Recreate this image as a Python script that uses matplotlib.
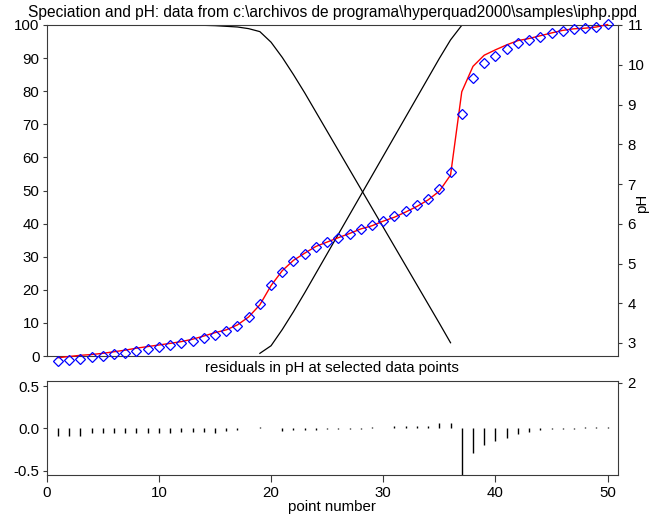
import matplotlib
matplotlib.use("Agg")
import matplotlib.pyplot as plt

plt.rcParams['font.family'] = ['Liberation Sans', 'DejaVu Sans']

# ---- data -------------------------------------------------------------
points = list(range(1, 51))

ph_observed = [2.54, 2.57, 2.60, 2.65, 2.68, 2.72, 2.76, 2.81, 2.85, 2.89,
               2.94, 2.99, 3.05, 3.13, 3.21, 3.30, 3.44, 3.66, 3.98, 4.45,
               4.79, 5.06, 5.24, 5.41, 5.53, 5.64, 5.75, 5.86, 5.96, 6.07,
               6.19, 6.32, 6.46, 6.63, 6.88, 7.29, 8.75, 9.67, 10.04, 10.23,
               10.39, 10.54, 10.62, 10.71, 10.79, 10.86, 10.90, 10.93, 10.96, 11.02]

ph_calculated = [2.63, 2.66, 2.69, 2.71, 2.74, 2.78, 2.82, 2.87, 2.91, 2.95,
                 2.99, 3.035, 3.095, 3.175, 3.26, 3.33, 3.455, 3.655, 3.96, 4.445,
                 4.82, 5.08, 5.26, 5.43, 5.54, 5.65, 5.755, 5.87, 5.95, 6.065,
                 6.165, 6.295, 6.435, 6.60, 6.82, 7.225, 9.32, 9.96, 10.24, 10.375,
                 10.50, 10.607, 10.66, 10.73, 10.80, 10.865, 10.905, 10.92, 10.95, 11.01]

residuals = [-0.09, -0.09, -0.09, -0.06, -0.06, -0.06, -0.06, -0.06, -0.06, -0.06,
             -0.05, -0.045, -0.045, -0.045, -0.05, -0.03, -0.015, 0.005, 0.02, 0.005,
             -0.03, -0.02, -0.02, -0.02, -0.01, -0.01, -0.005, -0.01, 0.01, 0.005,
             0.025, 0.025, 0.025, 0.03, 0.06, 0.065, -0.57, -0.29, -0.20, -0.145,
             -0.11, -0.067, -0.04, -0.02, -0.01, -0.005, -0.005, 0.01, 0.01, 0.01]

# percentage of the protonated species (points 1-36)
hl_points = list(range(1, 37))
hl_percent = [100.0] * 13 + [99.9, 99.8, 99.6, 99.4, 98.9, 98.0, 94.8,
                             90.2, 85.0, 79.5, 73.7, 67.9, 62.1, 56.3, 50.5,
                             44.7, 38.9, 33.1, 27.3, 21.5, 15.7, 9.9, 4.0]

# percentage of the deprotonated species (points 19-50)
l_points = list(range(19, 51))
l_percent = [0.8, 3.1, 8.0, 13.4, 19.1, 25.0, 30.9, 36.8, 42.7, 48.6,
             54.5, 60.4, 66.3, 72.2, 78.1, 84.0, 89.9, 95.5, 99.9] + [100.0] * 13

percent_ticks = list(range(0, 101, 10))
ph_ticks = list(range(2, 12))
residual_ticks = [-0.5, 0.0, 0.5]
point_ticks = [0, 10, 20, 30, 40, 50]

# ---- layout helpers (pixel -> figure fraction) ------------------------
W, H = 662, 520
fig = plt.figure(figsize=(W / 100, H / 100), dpi=100)


def fx(px):
    return px / W


def fy(py):
    return 1 - py / H


LEFT, RIGHT = 46.7, 617.7
FRAME = '#3a3a3a'
FS = 10.8


def style_frame(ax):
    for s in ax.spines.values():
        s.set_color(FRAME)
        s.set_linewidth(0.8)


# ---- upper panel: speciation (left axis) ------------------------------
ax = fig.add_axes([fx(LEFT), fy(356), fx(RIGHT) - fx(LEFT), fy(25) - fy(356)])
style_frame(ax)
ax.plot(hl_points, hl_percent, color='black', lw=0.9)
ax.plot(l_points, l_percent, color='black', lw=0.9)
ax.set_xlim(0, 50.9)
ax.set_ylim(0, 100)
ax.set_yticks(percent_ticks)
ax.tick_params(axis='y', direction='out', length=3.2, width=0.8, color=FRAME,
               labelsize=FS, pad=2)
ax.tick_params(axis='x', bottom=False, labelbottom=False)

# ---- pH axis (right), extends from pH 2 to 11 -------------------------
axp = fig.add_axes([fx(LEFT), fy(382.75), fx(RIGHT) - fx(LEFT), fy(25) - fy(382.75)],
                   sharex=ax)
axp.patch.set_visible(False)
for s in axp.spines.values():
    s.set_visible(False)
axp.set_ylim(2, 11)
axp.set_yticks(ph_ticks)
axp.yaxis.tick_right()
axp.tick_params(axis='y', direction='out', length=3.2, width=0.8, color=FRAME,
                labelsize=FS, pad=4)
axp.tick_params(axis='x', bottom=False, labelbottom=False)
axp.plot(points, ph_calculated, color='red', lw=1.0, clip_on=False, zorder=2)
axp.plot(points, ph_observed, linestyle='none', marker='D', ms=5.6,
         mfc='none', mec='blue', mew=0.9, clip_on=False, zorder=3)

fig.text(fx(642), fy(203), 'pH', rotation=90, ha='center', va='center', fontsize=FS)

# ---- lower panel: residuals -------------------------------------------
axr = fig.add_axes([fx(LEFT), fy(475), fx(RIGHT) - fx(LEFT), fy(380.7) - fy(475)])
style_frame(axr)
axr.vlines(points, 0, residuals, color='black', lw=1.0)
axr.set_xlim(0, 50.9)
axr.set_ylim(-0.552, 0.563)
axr.set_yticks(residual_ticks)
axr.set_yticklabels(['-0.5', '0.0', '0.5'])
axr.set_xticks(point_ticks)
axr.tick_params(axis='y', direction='out', length=3.2, width=0.8, color=FRAME,
                labelsize=FS, pad=2)
axr.tick_params(axis='x', direction='out', length=5, width=0.8, color=FRAME,
                labelsize=FS, pad=3)

# ---- titles ------------------------------------------------------------
fig.text(fx(332), fy(17.5), r'Speciation and pH: data from c:\archivos de programa\hyperquad2000\samples\iphp.ppd',
         ha='center', va='baseline', fontsize=11.2)
fig.text(fx(332), fy(372), 'residuals in pH at selected data points',
         ha='center', va='baseline', fontsize=FS)
fig.text(fx(332), fy(511), 'point number', ha='center', va='baseline', fontsize=FS)

fig.savefig('out.png', dpi=100)
